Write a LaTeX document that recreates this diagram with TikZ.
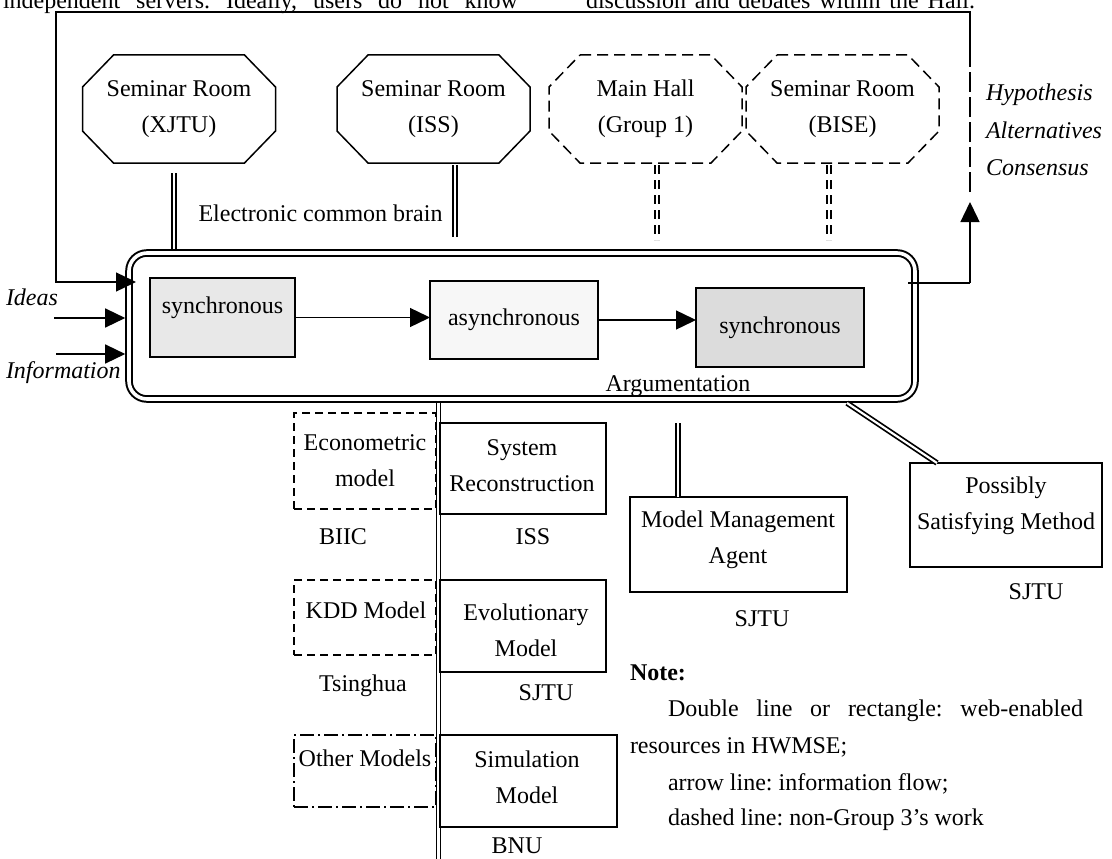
\documentclass[tikz,border=0pt]{standalone}
\usepackage{fontspec}
\setmainfont{Liberation Serif}
\usetikzlibrary{arrows.meta,calc}

\definecolor{syncfill}{HTML}{E8E8E8}
\definecolor{asyncfill}{HTML}{F7F7F7}
\definecolor{syncfillb}{HTML}{DCDCDC}

% octagonal frame around a rectangular room node (corners cut 31pt x 32pt)
\newcommand\octframe[2][]{%
  \draw[octline,#1] ([xshift=31pt]#2.north west) -- ([xshift=-31pt]#2.north east)
    -- ([yshift=-32pt]#2.north east) -- ([yshift=32pt]#2.south east)
    -- ([xshift=-31pt]#2.south east) -- ([xshift=31pt]#2.south west)
    -- ([yshift=32pt]#2.south west) -- ([yshift=-32pt]#2.north west) -- cycle;}

\begin{document}
\frenchspacing
\begin{tikzpicture}[x=1pt, y=-1pt,
  every node/.style={font=\fontsize{24pt}{36pt}\selectfont, inner sep=0pt, outer sep=0pt},
  room/.style={minimum width=193pt, minimum height=108pt, align=center},
  octline/.style={line width=1.5pt, line join=miter},
  roomdash/.style={dash pattern=on 11pt off 6pt},
  bigbox/.style={draw, rounded corners=18pt, double, double distance=3.6pt, line width=2pt,
                 minimum width=786pt, minimum height=146pt, outer sep=3.8pt},
  stagebox/.style={draw, line width=1.5pt},
  modelbox/.style={draw, line width=1.5pt, align=center},
  dashbox/.style={dash pattern=on 8pt off 5pt},
  dashdotbox/.style={dash pattern=on 14pt off 4pt on 2pt off 4pt},
  webline/.style={double, double distance=2.2pt, line width=1.7pt},
  webdash/.style={webline, dash pattern=on 9pt off 6pt},
  plainline/.style={line width=1.4pt},
  flow/.style={line width=1.4pt, -{Triangle[length=20pt,width=19pt]}},
  longdash/.style={line width=1.4pt, dash pattern=on 20pt off 5pt},
  txt/.style={align=center},
  ]

\useasboundingbox (0,0) rectangle (1112,859);
\fill[white] (0,0) rectangle (1112,859);
\clip (0,0) rectangle (1112,859);

% running text of the page, cut by the frame
\node[anchor=base west] (pagetextL) at (3,9) {\makebox[515pt][s]{independent servers. Ideally, users do not know}};
\node[anchor=base west] (pagetextR) at (586,9) {\makebox[389pt][s]{discussion and debates within the Hall.}};

% ---------- rooms ----------
\node[room] (xjtu) at (179,109) {Seminar Room\\(XJTU)};
\node[room] (iss)  at (433.5,109) {Seminar Room\\(ISS)};
\node[room] (hall) at (645.5,109) {Main Hall\\(Group 1)};
\node[room] (bise) at (842.5,109) {Seminar Room\\(BISE)};
\octframe{xjtu}
\octframe{iss}
\octframe[roomdash]{hall}
\octframe[roomdash]{bise}

% ---------- argumentation hall ----------
\node[bigbox] (arg) at (522,326) {};
\node[anchor=base] (argtext) at (678,391) {Argumentation};
\node[anchor=base] (brain) at (320.5,221) {Electronic common brain};

\node[stagebox, fill=syncfill, minimum width=145pt, minimum height=79pt] (sync1) at (222.5,317.5) {};
\node (sync1t) at (222.5,308) {synchronous};
\node[stagebox, fill=asyncfill, minimum width=168pt, minimum height=78pt] (async) at (514,320) {asynchronous};
\node[stagebox, fill=syncfillb, minimum width=168pt, minimum height=79pt] (sync2) at (780,327.5) {synchronous};

\draw[flow] (sync1.east) -- (sync1.east -| async.west);
\draw[flow] (async.east) -- (async.east -| sync2.west);

% ---------- room links ----------
\coordinate (xjtuA) at (174,173);
\draw[webline] (xjtuA) -- (xjtuA |- arg.north);
\coordinate (issA) at (455,165);
\coordinate (issB) at (455,237);
\draw[webline] (issA) -- (issB);
\coordinate (hallA) at (657,165);
\coordinate (hallB) at (657,240);
\draw[webdash] (hallA) -- (hallB);
\coordinate (biseA) at (829,165);
\coordinate (biseB) at (829,240);
\draw[webdash] (biseA) -- (biseB);

% ---------- inputs ----------
\node[anchor=base west] (ideas) at (6,305) {\itshape Ideas};
\node[anchor=base west] (info) at (6,378) {\itshape Information};
\coordinate (ideasA) at (54,318);
\coordinate (infoA) at (56,354);
\draw[flow] (ideasA) -- (ideasA -| arg.west);
\draw[flow] (infoA) -- (infoA -| arg.west);

% ---------- feedback loop ----------
\coordinate (loopout) at (908,283);
\coordinate (loopr) at (970,283);
\coordinate (uptip) at (970,202);
\coordinate (dashlow) at (970,192);
\coordinate (dashtop) at (970,48);
\coordinate (topright) at (970,12);
\coordinate (topleft) at (56,12);
\coordinate (leftin) at (56,282);
\coordinate (intip) at (136,282);
\draw[plainline] (loopout) -- (loopr);
\draw[flow] (loopr) -- (uptip);
\draw[longdash] (dashlow) -- (dashtop);
\draw[flow] (dashtop) -- (topright) -- (topleft) -- (leftin) -- (intip);

\node[anchor=base west] (hyp) at (986,101) {\itshape Hypothesis};
\node[anchor=base west] (alt) at (986,138) {\itshape Alternatives};
\node[anchor=base west] (cons) at (986,175) {\itshape Consensus};

% ---------- model base ----------
\coordinate (spinebot) at (438.5,870);
\draw[webline] (spinebot |- arg.south) -- (spinebot);

\node[modelbox, dashbox, minimum width=142pt, minimum height=96pt] (econ) at (365,461) {Econometric\\model};
\node[modelbox, minimum width=166pt, minimum height=91pt] (sysrec) at (523,468.5) {};
\node[txt] (sysrect) at (522,466) {System\\Reconstruction};

\node[modelbox, dashbox, minimum width=142pt, minimum height=75pt] (kdd) at (365,617.5) {};
\node (kddt) at (366,610) {KDD Model};
\node[modelbox, minimum width=166pt, minimum height=92pt] (evo) at (523,626) {};
\node[txt] (evot) at (526,630) {Evolutionary\\Model};

\node[modelbox, dashdotbox, minimum width=142pt, minimum height=72pt] (other) at (365,771) {};
\node (othert) at (365,758) {Other Models};
\node[modelbox, minimum width=177pt, minimum height=92pt] (sim) at (528.5,781) {};
\node[txt] (simt) at (527,777.5) {Simulation\\Model};

\node[anchor=base] (biic) at (343,544) {BIIC};
\node[anchor=base] (issl) at (533,544) {ISS};
\node[anchor=base] (tsing) at (363,691) {Tsinghua};
\node[anchor=base] (sjtua) at (546,700) {SJTU};
\node[anchor=base] (bnu) at (517,853) {BNU};

% ---------- agents ----------
\node[modelbox, minimum width=217pt, minimum height=95pt] (mma) at (738.5,544.5) {};
\node[txt] (mmat) at (738,540) {Model Management\\Agent};
\coordinate (mmaA) at (678,423);
\draw[webline] (mmaA) -- (mmaA |- mma.north);
\node[anchor=base] (sjtub) at (762,626) {SJTU};

\node[modelbox, minimum width=192pt, minimum height=104pt] (psm) at (1006,515) {};
\node[txt] (psmt) at (1006,506) {Possibly\\Satisfying Method};
\coordinate (psmA) at (847,403);
\draw[webline] (psmA) -- ([xshift=27pt]psm.north west);
\node[anchor=base] (sjtuc) at (1036,599) {SJTU};

% ---------- note ----------
\node[anchor=base west] (note) at (630,680) {\bfseries Note:};
\node[anchor=base west] (note1) at (668,716) {\makebox[415pt][s]{Double line or rectangle: web-enabled}};
\node[anchor=base west] (note2) at (630,753) {resources in HWMSE;};
\node[anchor=base west] (note3) at (668,790) {arrow line: information flow;};
\node[anchor=base west] (note4) at (668,825) {dashed line: non-Group 3’s work};

\end{tikzpicture}
\end{document}
